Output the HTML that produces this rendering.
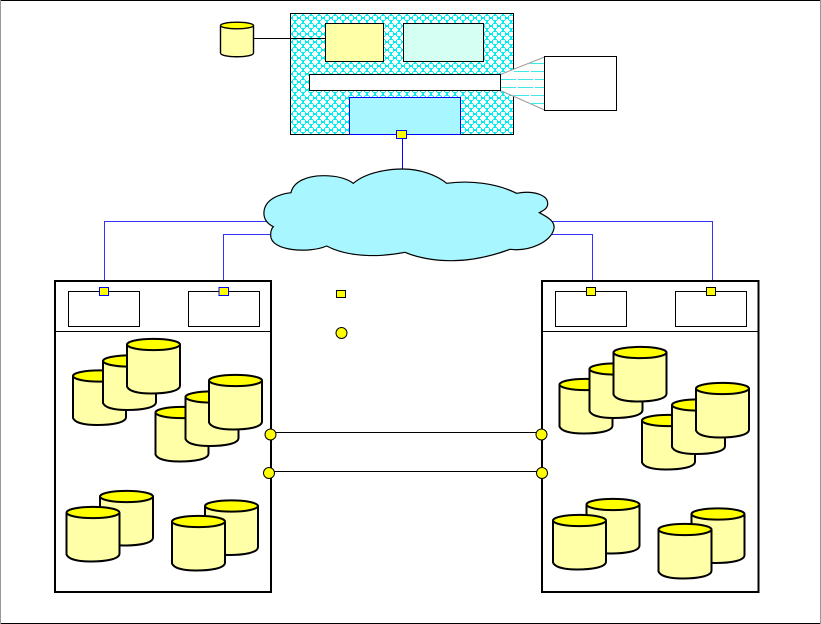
<!DOCTYPE html>
<html><head><meta charset="utf-8"><style>
html,body{margin:0;padding:0;background:#fff}
svg{display:block}
</style></head><body>
<svg xmlns="http://www.w3.org/2000/svg" xmlns:xlink="http://www.w3.org/1999/xlink" width="821" height="624" viewBox="0 0 821 624">
<defs>
<pattern id="h" x="291" y="14" width="8" height="8" patternUnits="userSpaceOnUse">
<rect width="8" height="8" fill="#fff"/>
<path shape-rendering="crispEdges" fill="#00f0f0" d="M3,0h2v1h-2zM2,1h4v1h-4zM1,2h1v1h-1zM6,2h1v1h-1zM0,3h2v2h-2zM6,3h2v2h-2zM1,5h1v1h-1zM6,5h1v1h-1zM2,6h4v1h-4zM3,7h2v1h-2z"/>
</pattern>
<g id="c">
<path d="M0,6 V48 C2,53 12,55 24,55 C38,55 53,53 53,47 V6" fill="#ffffa8" stroke="#000" stroke-width="2"/>
<ellipse cx="26.5" cy="6" rx="26.5" ry="5.600" fill="#ffff00" stroke="#000" stroke-width="2"/>
</g>
</defs>
<rect width="821" height="624" fill="#fff"/>
<path d="M0,.5H821" stroke="#000"/>
<path d="M0,623.5H821" stroke="#000"/>
<path d="M.5,0V624" stroke="#999"/>
<path d="M820.5,0V624" stroke="#999"/>

<!-- top server -->
<rect x="290.5" y="13.5" width="223" height="121" fill="url(#h)" stroke="#000"/>
<rect x="325.5" y="23.5" width="58" height="38" fill="#ffffa8" stroke="#000"/>
<rect x="403.5" y="23.5" width="80" height="38" fill="#d4fff2" stroke="#000"/>
<path d="M500.5,74.5 L544.5,57 V110 L500.5,90.5Z" fill="#fff" stroke="#999"/>
<g stroke="#40e8e8" stroke-dasharray="15 2" stroke-width="1.1">
<path d="M530,63.5H544"/><path d="M514,71.5H544"/><path d="M501,79.5H544"/><path d="M501,87.5H544"/><path d="M514,95.5H544"/><path d="M530,103.5H544"/>
</g>
<rect x="309.5" y="74.5" width="191" height="16" fill="#fff" stroke="#000"/>
<rect x="544.5" y="56.5" width="72" height="54" fill="#fff" stroke="#000"/>
<rect x="349.5" y="97.5" width="111" height="37" fill="#a8f6ff" stroke="#0000ff"/>
<path d="M402.5,134V170" stroke="#0000ff" fill="none"/>
<rect x="396.5" y="130.5" width="10" height="8" fill="#ffff00" stroke="#0000ff"/>
<path d="M253,38.5H325" stroke="#000"/>
<path d="M220.500,25.500 V53 C220.500,58 253.500,58 253.500,53 V25.500" fill="#ffffa8" stroke="#000" stroke-width="1.4"/>
<ellipse cx="237" cy="25.500" rx="16.500" ry="3.300" fill="#ffff00" stroke="#000" stroke-width="1.4"/>

<!-- blue connectors -->
<g fill="none" stroke="#0000ff" stroke-opacity=".8">
<path d="M104.5,288V221.5H270"/>
<path d="M223.5,288V234.5H275"/>
<path d="M592.5,288V234.5H550"/>
<path d="M712.5,288V221.5H550"/>
</g>

<!-- cloud -->
<g transform="translate(250 160) scale(.33333)">
<path d="M310,70 C350,35 420,27 458,27 C510,27 560,45 590,70 C660,60 740,70 800,100 C850,90 895,105 893,132 C893,145 880,152 868,158 C895,172 915,185 912,205 C905,245 840,275 780,268 C720,290 660,303 600,302 C550,302 500,292 465,277 C400,290 300,295 230,258 C180,280 60,275 62,225 C62,215 65,205 70,200 C50,190 40,175 42,155 C45,120 85,102 123,98 C130,65 170,47 220,47 C260,47 290,55 310,70Z" fill="#a8f6ff" stroke="#000" stroke-width="3.6"/>
</g>

<!-- left frame -->
<rect x="55" y="281" width="216" height="311" fill="#fff" stroke="#000" stroke-width="2"/>
<path d="M55,331.5H271" stroke="#000"/>
<rect x="68.5" y="291.5" width="71" height="35" fill="#fff" stroke="#000"/>
<rect x="188.5" y="291.5" width="71" height="35" fill="#fff" stroke="#000"/>
<rect x="99.5" y="287.5" width="9" height="8" fill="#ffff00" stroke="#0000ff"/>
<rect x="219" y="287.5" width="9.5" height="8" fill="#ffff00" stroke="#0000ff"/>
<use xlink:href="#c" href="#c" x="73" y="370"/>
<use xlink:href="#c" href="#c" x="103" y="355"/>
<use xlink:href="#c" href="#c" x="127" y="338.5"/>
<use xlink:href="#c" href="#c" x="155.5" y="406.5"/>
<use xlink:href="#c" href="#c" x="185.5" y="391"/>
<use xlink:href="#c" href="#c" x="209" y="374.5"/>
<use xlink:href="#c" href="#c" x="100" y="490.5"/>
<use xlink:href="#c" href="#c" x="66.5" y="506.5"/>
<use xlink:href="#c" href="#c" x="205" y="500"/>
<use xlink:href="#c" href="#c" x="172" y="515.5"/>

<!-- right frame -->
<rect x="542" y="281" width="216.500" height="311" fill="#fff" stroke="#000" stroke-width="2"/>
<path d="M542,331.5H758" stroke="#000"/>
<rect x="555.5" y="291.5" width="71" height="35" fill="#fff" stroke="#000"/>
<rect x="675.5" y="291.5" width="71" height="35" fill="#fff" stroke="#000"/>
<rect x="586.5" y="287.500" width="9" height="8" fill="#ffff00" stroke="#000"/>
<rect x="706.5" y="287.500" width="9" height="8" fill="#ffff00" stroke="#000"/>
<use xlink:href="#c" href="#c" x="559.5" y="378.500"/>
<use xlink:href="#c" href="#c" x="589.5" y="363"/>
<use xlink:href="#c" href="#c" x="613.5" y="346.500"/>
<use xlink:href="#c" href="#c" x="642" y="414.500"/>
<use xlink:href="#c" href="#c" x="672" y="399"/>
<use xlink:href="#c" href="#c" x="696" y="382.500"/>
<use xlink:href="#c" href="#c" x="586.5" y="498.500"/>
<use xlink:href="#c" href="#c" x="553" y="514.500"/>
<use xlink:href="#c" href="#c" x="691.5" y="508"/>
<use xlink:href="#c" href="#c" x="658.5" y="523.500"/>

<!-- links -->
<path d="M271,432.5H542M269,471.500H542" stroke="#000" fill="none"/>
<g fill="#ffff00" stroke="#000">
<circle cx="270.5" cy="434.500" r="5.500"/>
<circle cx="541.5" cy="434.500" r="5.500"/>
<circle cx="269" cy="473" r="5.500"/>
<circle cx="542" cy="473" r="5.500"/>
<circle cx="341.5" cy="333" r="5.500"/>
<rect x="336.500" y="290.500" width="9" height="7"/>
</g>
</svg>
</body></html>
